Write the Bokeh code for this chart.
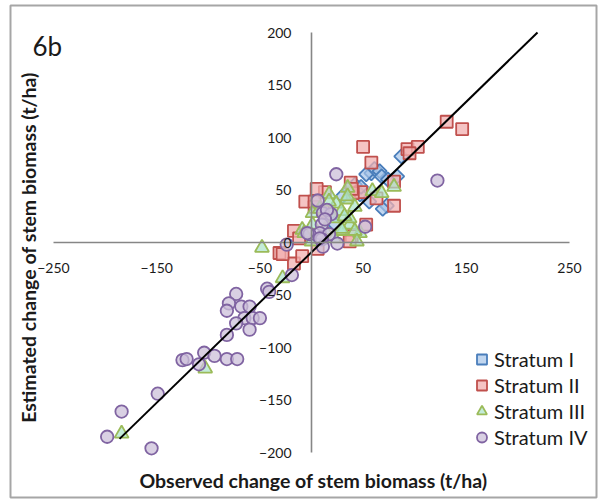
import numpy as np
from bokeh.plotting import figure
from bokeh.models import Range1d, LinearAxis, FixedTicker, Label, BoxAnnotation
from bokeh.embed import file_html
from bokeh.resources import INLINE

# ---- data ----
x_ticks = [-250, -150, -50, 50, 150, 250]
y_ticks = [-200, -150, -100, -50, 0, 50, 100, 150, 200]

s1_x = [87, 58, 61, 66, 53, 83, 68, 42, 73, 56, 47, 69, 30, 48, 74, 17, 22]
s1_y = [82, 66, 70, 68, 65, 63, 63, 55, 35, 39, 46, 32, 44, 53, 60, 30, 18]

s2_x = [131, 146, 50, 58, 93, 103, 95, -6, 13, 3, 38, 48, 80, 80, -17, -31, -17, -9,
        6, 39, 40, 63, 5, 11, 53, 37, 3, 39, -12, -28]
s2_y = [115, 108, 91, 76, 89, 91, 85, 39, 48, 34, 57, 48, 58, 35, 11, -10, -20, -13,
        -6, 6, 47, 42, 51, 30, 17, 1, 39, 51, 4, -11]

s3_x = [-48, -28, -103, -184, 17, 35, 34, 59, 68, 80, -9, 47, 37, 1, 8, 24, 29, 37,
        -7, 13, 30, 42, 22, 1, 22, 32, 29, 44, 0, 35, 17, 42]
s3_y = [-5, -34, -120, -182, 46, 52, 41, 49, 47, 53, 12, 9, 17, 28, 32, 37, 30, 23,
        9, 12, 11, 11, 4, 17, 23, 25, 13, 1, 1, 44, 39, 34]

s4_x = [-43, -41, -73, -80, -82, -68, -60, -65, -57, -50, -73, -60, -82, -104, -94, -82,
        -72, -125, -121, -109, -149, -184, -198, -155, -19, -24,
        24, 122, 6, 52, 25, 11, 19, 10, 8, -2, 17, 10, 11, 15, -4, 13, 8]
s4_y = [-44, -47, -49, -58, -65, -61, -61, -72, -72, -72, -77, -83, -88, -105, -108, -111,
        -111, -112, -111, -116, -144, -161, -185, -196, -31, -2,
        65, 59, 40, 15, -1, 28, 27, 17, 9, 8, 8, 3, -4, 31, 9, 22, 4]

line_x = [-186, 219]
line_y = [-187, 200]

FONT = "Lato"
W, H = 599, 499
# pixel placement of the plotting area (-250..250, -200..200)
PX_L, PX_R, PX_T, PX_B = 53, 569, 32, 452
sx = (PX_R - PX_L) / 500.0
sy = (PX_B - PX_T) / 400.0
x_start = -250 - PX_L / sx
x_end = 250 + (W - PX_R) / sx
y_end = 200 + PX_T / sy
y_start = -200 - (H - PX_B) / sy

def dx(px):
    return x_start + px / sx

def dy(py):
    return y_end - py / sy

p = figure(width=W, height=H, output_backend="svg", toolbar_location=None,
           x_range=Range1d(x_start, x_end), y_range=Range1d(y_start, y_end),
           x_axis_location=None, y_axis_location=None,
           min_border=0, min_border_left=0, min_border_right=0,
           min_border_top=0, min_border_bottom=0)
p.xgrid.grid_line_color = None
p.ygrid.grid_line_color = None
p.outline_line_color = None
p.background_fill_color = "white"
p.border_fill_color = "white"

def style_axis(ax):
    ax.axis_line_color = "#868686"
    ax.axis_line_width = 1.6
    ax.major_tick_line_color = None
    ax.minor_tick_line_color = None
    ax.major_tick_out = 0
    ax.major_tick_in = 0
    ax.major_label_standoff = 20
    ax.major_label_text_font = FONT
    ax.major_label_text_font_size = "14px"
    ax.major_label_text_color = "#1a1a1a"

xaxis = LinearAxis(fixed_location=0, ticker=FixedTicker(ticks=x_ticks), bounds=(-250, 250))
style_axis(xaxis)
p.add_layout(xaxis, "below")
yaxis = LinearAxis(fixed_location=0, ticker=FixedTicker(ticks=y_ticks), bounds=(-200, 200))
style_axis(yaxis)
p.add_layout(yaxis, "left")

p.scatter(s1_x, s1_y, marker="square", angle=np.pi / 4, size=10,
          line_color="#4A7EBB", line_width=1.8, fill_color="#A7C4E8", fill_alpha=0.7,
          legend_label="Stratum I")
p.scatter(s2_x, s2_y, marker="square", size=12,
          line_color="#C0504D", line_width=1.8, fill_color="#F2B0B0", fill_alpha=0.75,
          legend_label="Stratum II")
p.scatter(s3_x, s3_y, marker="triangle", size=14,
          line_color="#9BBB59", line_width=1.8, fill_color="#A9E3C9", fill_alpha=0.7,
          legend_label="Stratum III")
p.scatter(s4_x, s4_y, marker="circle", size=12.5,
          line_color="#8064A2", line_width=1.8, fill_color="#CCC0DA", fill_alpha=0.75,
          legend_label="Stratum IV")

p.line(line_x, line_y, line_color="black", line_width=2)

lg = p.legend[0]
lg.location = (469, H - 450)
lg.background_fill_alpha = 0
lg.border_line_color = None
lg.padding = 0
lg.margin = 0
lg.spacing = 0
lg.glyph_width = 25
lg.glyph_height = 26
lg.label_height = 26
lg.label_standoff = 0
lg.label_text_font = FONT
lg.label_text_font_size = "20px"
lg.label_text_color = "#1a1a1a"

p.add_layout(Label(x=dx(32), y=dy(45), text="6b", text_font=FONT, text_font_size="26px",
                   text_baseline="alphabetic", text_color="#1a1a1a"))
p.add_layout(Label(x=dx(313), y=dy(480), text="Observed change of stem biomass (t/ha)",
                   text_font=FONT, text_font_size="19.5px", text_font_style="bold",
                   text_align="center", text_baseline="middle", text_color="#1a1a1a"))
p.add_layout(Label(x=dx(28), y=dy(247), text="Estimated change of stem biomass (t/ha)",
                   angle=np.pi / 2, text_font=FONT, text_font_size="19.5px",
                   text_font_style="bold", text_align="center", text_baseline="middle",
                   text_color="#1a1a1a"))

p.add_layout(BoxAnnotation(left=dx(10), right=dx(596), top=dy(5), bottom=dy(497),
                           fill_color=None, fill_alpha=0,
                           line_color="#A6A6A6", line_width=2, line_alpha=1))

open("out.html", "w").write(file_html(p, INLINE))
